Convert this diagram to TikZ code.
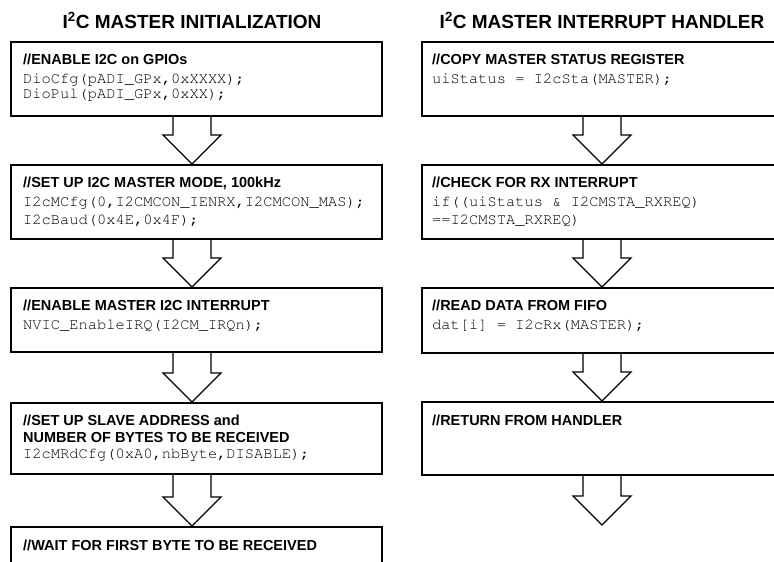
\documentclass[tikz,border=0pt]{standalone}
\usepackage[T1,TU]{fontenc}
\usepackage{fontspec}
\setmainfont{Liberation Sans}
\newcommand\codefont{\fontencoding{T1}\fontfamily{pcr}\fontseries{m}\fontshape{n}\selectfont}
\usetikzlibrary{calc}
\tikzset{
  box/.style={draw, line width=1.6pt, anchor=north west, inner sep=0pt, minimum width=#1},
  box/.default=371pt,
  hdr/.style={anchor=base west, inner sep=0pt, font=\fontsize{14.5}{16}\selectfont\bfseries},
  code/.style={anchor=base west, inner sep=0pt, font=\codefont\fontsize{15.4}{16}\selectfont},
  ttl/.style={anchor=base, inner sep=0pt, font=\fontsize{19}{22}\selectfont\bfseries},
  blk/.style={draw, line width=1.3pt, line join=miter},
}
\newcommand\blockarrow[3]{%
  \draw[blk] ($(#1.south -| #3)+(-19,0)$) -- ($(#2 -| #3)+(-19,-29)$)
    -- ($(#2 -| #3)+(-29,-29)$) -- (#2 -| #3) -- ($(#2 -| #3)+(29,-29)$)
    -- ($(#2 -| #3)+(19,-29)$) -- ($(#1.south -| #3)+(19,0)$);}
\begin{document}
\begin{tikzpicture}[x=1pt,y=-1pt]
\useasboundingbox (0,0) rectangle (774,562);
\clip (0,0) rectangle (774,562);
\coordinate (axL) at (192,0);
\coordinate (axR) at (602,0);
% titles
\node[ttl] (tL) at (192,28) {I\textsuperscript{2}C MASTER INITIALIZATION};
\node[ttl] (tR) at (602,28) {I\textsuperscript{2}C MASTER INTERRUPT HANDLER};
% left column
\node[box, minimum height=74pt] (L1) at (10,41) {};
\node[box, minimum height=74pt] (L2) at (10,164) {};
\node[box, minimum height=64pt] (L3) at (10,287) {};
\node[box, minimum height=71pt] (L4) at (10,402) {};
\node[box, minimum height=60pt] (L5) at (10,526) {};
\node[hdr] (L1a) at ($(L1.north west)+(13,23)$) {//ENABLE I2C on GPIOs};
\node[code] (L1b) at ($(L1.north west)+(13,42)$) {DioCfg(pADI\_GPx,0xXXXX);};
\node[code] (L1c) at ($(L1.north west)+(13,57)$) {DioPul(pADI\_GPx,0xXX);};
\node[hdr] (L2a) at ($(L2.north west)+(13,23)$) {//SET UP I2C MASTER MODE, 100kHz};
\node[code] (L2b) at ($(L2.north west)+(13,42)$) {I2cMCfg(0,I2CMCON\_IENRX,I2CMCON\_MAS);};
\node[code] (L2c) at ($(L2.north west)+(13,60)$) {I2cBaud(0x4E,0x4F);};
\node[hdr] (L3a) at ($(L3.north west)+(13,23)$) {//ENABLE MASTER I2C INTERRUPT};
\node[code] (L3b) at ($(L3.north west)+(13,42)$) {NVIC\_EnableIRQ(I2CM\_IRQn);};
\node[hdr] (L4a) at ($(L4.north west)+(13,23)$) {//SET UP SLAVE ADDRESS and};
\node[hdr] (L4b) at ($(L4.north west)+(13,40)$) {NUMBER OF BYTES TO BE RECEIVED};
\node[code] (L4c) at ($(L4.north west)+(13,56)$) {I2cMRdCfg(0xA0,nbByte,DISABLE);};
\node[hdr] (L5a) at ($(L5.north west)+(13,24)$) {//WAIT FOR FIRST BYTE TO BE RECEIVED};
% right column
\node[box=400pt, minimum height=74pt] (R1) at (421,41) {};
\node[box=400pt, minimum height=74pt] (R2) at (421,164) {};
\node[box=400pt, minimum height=65pt] (R3) at (421,287) {};
\node[box=400pt, minimum height=73pt] (R4) at (421,401) {};
\coordinate (Rend) at (602,525);
\node[hdr] (R1a) at ($(R1.north west)+(11,23)$) {//COPY MASTER STATUS REGISTER};
\node[code] (R1b) at ($(R1.north west)+(11,42)$) {uiStatus = I2cSta(MASTER);};
\node[hdr] (R2a) at ($(R2.north west)+(11,23)$) {//CHECK FOR RX INTERRUPT};
\node[code] (R2b) at ($(R2.north west)+(11,42)$) {if((uiStatus \& I2CMSTA\_RXREQ)};
\node[code] (R2c) at ($(R2.north west)+(11,60)$) {==I2CMSTA\_RXREQ)};
\node[hdr] (R3a) at ($(R3.north west)+(11,23)$) {//READ DATA FROM FIFO};
\node[code] (R3b) at ($(R3.north west)+(11,42)$) {dat[i] = I2cRx(MASTER);};
\node[hdr] (R4a) at ($(R4.north west)+(11,24)$) {//RETURN FROM HANDLER};
% block arrows
\blockarrow{L1}{L2.north}{axL}
\blockarrow{L2}{L3.north}{axL}
\blockarrow{L3}{L4.north}{axL}
\blockarrow{L4}{L5.north}{axL}
\blockarrow{R1}{R2.north}{axR}
\blockarrow{R2}{R3.north}{axR}
\blockarrow{R3}{R4.north}{axR}
\blockarrow{R4}{Rend}{axR}
\end{tikzpicture}
\end{document}
